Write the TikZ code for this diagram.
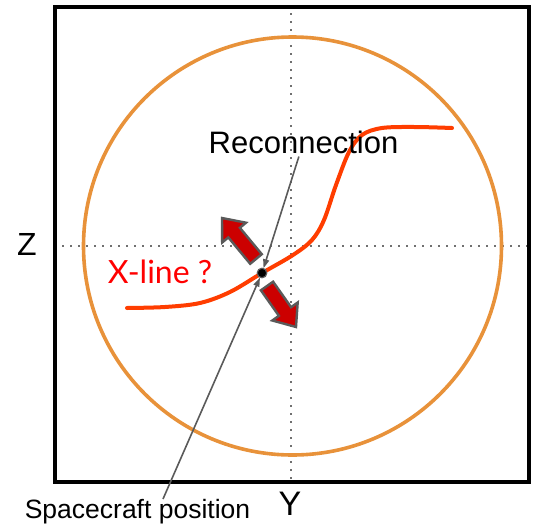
\documentclass[tikz,border=0pt]{standalone}
\usepackage{fontspec}
\setmainfont{Liberation Sans}
\newfontfamily\xlinefont{Lato}
\usetikzlibrary{arrows.meta,calc}
\definecolor{boxblack}{HTML}{000000}
\definecolor{ringorange}{HTML}{E8923A}
\definecolor{curvered}{HTML}{FF3D00}
\definecolor{arrowred}{HTML}{CC0000}
\definecolor{edgegray}{HTML}{5A5A5A}
\definecolor{dotgray}{HTML}{707070}
\tikzset{
  frame/.style={draw=boxblack, line width=4pt},
  axisdots/.style={draw=dotgray, line width=2.2pt, dash pattern=on 2.2pt off 5.8pt},
  ring/.style={draw=ringorange, line width=3.6pt},
  xcurve/.style={draw=curvered, line width=4pt},
  blockarrow/.style={fill=arrowred, draw=edgegray, line width=2.4pt, line join=miter},
  pointer/.style={draw=edgegray, line width=1.6pt, -{Triangle[length=9pt,width=6pt]}},
  label/.style={inner sep=3pt, text=black}
}
\begin{document}
\begin{tikzpicture}[x=1pt,y=-1pt]
\useasboundingbox (0,0) rectangle (539,525);
% dotted axes
\draw[axisdots] (291,5) -- (291,483);
\draw[axisdots] (54,246) -- (529,246);
% frame
\draw[frame] (54.5,7) rectangle (529,482);
% circle
\draw[ring] (292.5,246) circle[radius=209];
% X-line curve
\draw[xcurve, line cap=round] plot[smooth, tension=0.55] coordinates {(127,308) (165,307) (200,303) (230,292) (262,273) (293,255) (312,240) (324,220) (336,185) (349,152) (362,135) (382,128) (415,127) (452,128)};
% block arrows
\draw[blockarrow] (261.8,254.2) -- (239.9,227.8) -- (246.0,222.7) -- (222,218) -- (222.2,242.5) -- (228.3,237.4) -- (250.2,263.8) -- cycle;
\draw[blockarrow] (273.1,281.7) -- (291.1,307.2) -- (297.7,302.5) -- (296,327) -- (272.3,320.5) -- (278.9,315.8) -- (260.9,290.3) -- cycle;
% spacecraft
\coordinate (sc) at (262,273);
% labels
\node[label, font=\fontsize{31}{31}\selectfont, anchor=base] (recon) at (303.5,153) {Reconnection};
\node[label, font=\fontsize{26.5}{26.5}\selectfont, anchor=base] (scpos) at (137.5,518) {Spacecraft position};
\node[label, font=\fontsize{34}{34}\selectfont, anchor=base] (ylab) at (290,515) {Y};
\node[label, font=\fontsize{32}{32}\selectfont, anchor=base] (zlab) at (27,255) {Z};
\node[label, text=red, font=\xlinefont\fontsize{32}{32}\selectfont, anchor=base] (xline) at (160,283) {X-line ?};
\coordinate (sc0) at (163,499);
% pointers
\draw[pointer, shorten >=5pt] (recon) -- (sc);
\draw[pointer, shorten >=5pt] (sc0) -- (sc);
\filldraw[fill=black, draw=edgegray, line width=1.2pt] (sc) circle[radius=4.8];
\end{tikzpicture}
\end{document}
